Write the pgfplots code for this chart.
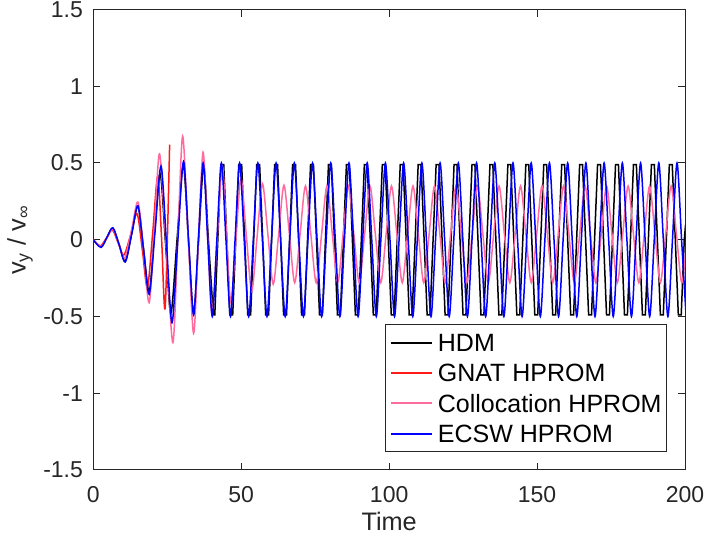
\documentclass[border=0pt]{standalone}
\usepackage{fontspec}
\setmainfont{Liberation Sans}
\usepackage{pgfplots}
\pgfplotsset{compat=1.18}
\definecolor{axgray}{rgb}{0.15,0.15,0.15}
\definecolor{gnatred}{rgb}{1,0.1,0.1}
\definecolor{colpink}{rgb}{1,0.42,0.62}
\definecolor{ecswblue}{rgb}{0,0,1}
\pgfplotsset{
  hdmstyle/.style={black, line width=0.75pt},
  gnatstyle/.style={gnatred, line width=0.75pt},
  colstyle/.style={colpink, line width=0.75pt},
  ecswstyle/.style={ecswblue, line width=0.75pt},
}
\begin{document}
\begin{tikzpicture}
\useasboundingbox (0,0) rectangle (353pt,267.5pt);
\begin{axis}[
  at={(46.65pt,32.5pt)}, anchor=south west,
  width=295.85pt, height=230.25pt, scale only axis,
  xmin=0, xmax=200, ymin=-1.5, ymax=1.5,
  xtick={0,50,100,150,200}, xticklabels={0,50,100,150,200},
  ytick={-1.5,-1,-0.5,0,0.5,1,1.5}, yticklabels={-1.5,-1,-0.5,0,0.5,1,1.5},
  tick align=inside, major tick length=3.5pt,
  xtick pos=both, ytick pos=both,
  axis line style={axgray, line width=0.5pt},
  every tick/.style={axgray, line width=0.5pt},
  tick label style={font=\fontsize{11.5}{13}\selectfont, text=axgray},
  xticklabel style={anchor=base, yshift=-16.15pt},
  yticklabel style={anchor=east, inner sep=0pt, xshift=-5pt},
  xlabel={Time},
  ylabel={v\textsubscript{y} / v\textsubscript{∞}},
  label style={font=\fontsize{12.65}{14}\selectfont, text=axgray},
  xlabel style={at={(axis description cs:0.5,-0.1315)}, anchor=base},
  ylabel style={at={(axis description cs:-0.1239,0.5)}, anchor=center},
  legend cell align=left,
  legend style={at={(rel axis cs:1,0)}, anchor=south east, xshift=-9.15pt, yshift=9pt,
    draw=axgray, line width=0.5pt, fill=white, inner xsep=2.3pt, inner ysep=1.35pt,
    row sep=0pt, column sep=2.3pt, font=\fontsize{12.5}{14}\selectfont,
    nodes={inner sep=0pt, text height=12.05pt, text depth=3.1pt}},
  legend image code/.code={\draw[#1, line width=0.9pt] (0pt,0pt) -- (20.5pt,0pt);},
]
% HDM transient
\addplot[hdmstyle, smooth, forget plot] coordinates {
(0,0) (2.6,-0.045) (4.6,0.015) (6.6,0.075) (8.7,-0.03) (10.8,-0.14) (13.0,0.04)
(15.1,0.22) (17.0,-0.06) (18.9,-0.34) (20.7,0.05) (22.6,0.43) (24.4,-0.02)
(26.2,-0.48) (28.3,0.0) (30.4,0.49) (32.15,0.0) (33.9,-0.48) (35.6,0.0)
(37.3,0.48) (38.9,0.0) (40.57,-0.49)};
% HDM steady
\addplot[hdmstyle] coordinates {
(40.57,-0.49) (41.06,-0.49) (42.09,0)
(43.11,0.49) (44.09,0.49) (45.12,0) (46.14,-0.49) (47.12,-0.49) (48.15,0)
(49.17,0.49) (50.15,0.49) (51.18,0) (52.20,-0.49) (53.18,-0.49) (54.21,0)
(55.24,0.49) (56.22,0.49) (57.25,0) (58.27,-0.49) (59.25,-0.49) (60.28,0)
(61.30,0.49) (62.28,0.49) (63.31,0) (64.33,-0.49) (65.31,-0.49) (66.34,0)
(67.37,0.49) (68.35,0.49) (69.38,0) (70.40,-0.49) (71.38,-0.49) (72.41,0)
(73.43,0.49) (74.41,0.49) (75.44,0) (76.46,-0.49) (77.44,-0.49) (78.47,0)
(79.49,0.49) (80.47,0.49) (81.50,0) (82.52,-0.49) (83.50,-0.49) (84.53,0)
(85.56,0.49) (86.54,0.49) (87.57,0) (88.59,-0.49) (89.57,-0.49) (90.60,0)
(91.62,0.49) (92.60,0.49) (93.63,0) (94.65,-0.49) (95.63,-0.49) (96.66,0)
(97.69,0.49) (98.67,0.49) (99.70,0) (100.72,-0.49) (101.70,-0.49) (102.73,0)
(103.75,0.49) (104.73,0.49) (105.76,0) (106.78,-0.49) (107.76,-0.49) (108.79,0)
(109.81,0.49) (110.79,0.49) (111.82,0) (112.84,-0.49) (113.82,-0.49) (114.85,0)
(115.88,0.49) (116.86,0.49) (117.89,0) (118.91,-0.49) (119.89,-0.49) (120.92,0)
(121.94,0.49) (122.92,0.49) (123.95,0) (124.97,-0.49) (125.95,-0.49) (126.98,0)
(128.01,0.49) (128.99,0.49) (130.02,0) (131.04,-0.49) (132.02,-0.49) (133.05,0)
(134.07,0.49) (135.05,0.49) (136.08,0) (137.10,-0.49) (138.08,-0.49) (139.11,0)
(140.13,0.49) (141.11,0.49) (142.14,0) (143.16,-0.49) (144.14,-0.49) (145.17,0)
(146.20,0.49) (147.18,0.49) (148.21,0) (149.23,-0.49) (150.21,-0.49) (151.24,0)
(152.26,0.49) (153.24,0.49) (154.27,0) (155.29,-0.49) (156.27,-0.49) (157.30,0)
(158.33,0.49) (159.31,0.49) (160.34,0) (161.36,-0.49) (162.34,-0.49) (163.37,0)
(164.39,0.49) (165.37,0.49) (166.40,0) (167.42,-0.49) (168.40,-0.49) (169.43,0)
(170.45,0.49) (171.43,0.49) (172.46,0) (173.48,-0.49) (174.46,-0.49) (175.49,0)
(176.52,0.49) (177.50,0.49) (178.53,0) (179.55,-0.49) (180.53,-0.49) (181.56,0)
(182.58,0.49) (183.56,0.49) (184.59,0) (185.61,-0.49) (186.59,-0.49) (187.62,0)
(188.65,0.49) (189.63,0.49) (190.66,0) (191.68,-0.49) (192.66,-0.49) (193.69,0)
(194.71,0.49) (195.69,0.49) (196.72,0) (197.74,-0.49) (198.72,-0.49) (199.75,0)
(200.2,0.1)};
\addlegendentry{HDM}
% GNAT
\addplot[gnatstyle, smooth] coordinates {
(0,0) (2.4,-0.04) (4.4,0.01) (6.4,0.065) (8.4,-0.02) (10.3,-0.10) (12.6,0.03)
(14.8,0.17) (16.6,-0.07) (18.3,-0.31) (20.1,0.05) (21.8,0.415) (23.1,0.0)
(24.3,-0.44) (25.8,0.62)};
\addlegendentry{GNAT HPROM}
% Collocation
\addplot[colstyle, smooth] coordinates {
(0,0) (2.6,-0.045) (4.6,0.01) (6.6,0.07) (8.6,-0.025) (10.6,-0.12) (12.9,0.06)
(15.1,0.245) (17.0,-0.08) (18.9,-0.41) (20.65,0.07) (22.4,0.56) (24.65,-0.05)
(26.9,-0.67) (28.55,0.0) (30.2,0.675) (32.05,0.03) (33.9,-0.61) (35.5,-0.02)
(37.1,0.57) (38.6,0.04) (40.1,-0.48) (41.85,0.0) (43.6,0.48) (45.05,0.03)
(46.5,-0.41) (48.2,0.0) (49.9,0.40) (51.72,0.03) (53.54,-0.335) (55.35,0.015)
(57.17,0.365) (58.99,0.04) (60.81,-0.29) (62.62,0.03) (64.44,0.355) (66.26,0.04)
(68.08,-0.28) (69.89,0.035)
(71.71,0.35) (73.53,0.035) (75.35,-0.28) (77.16,0.035)
(78.98,0.35) (80.80,0.035) (82.62,-0.28) (84.43,0.035)
(86.25,0.35) (88.07,0.035) (89.89,-0.28) (91.70,0.035)
(93.52,0.35) (95.34,0.035) (97.16,-0.28) (98.97,0.035)
(100.79,0.35) (102.61,0.035) (104.43,-0.28) (106.24,0.035)
(108.06,0.35) (109.88,0.035) (111.70,-0.28) (113.51,0.035)
(115.33,0.35) (117.15,0.035) (118.97,-0.28) (120.78,0.035)
(122.60,0.35) (124.42,0.035) (126.24,-0.28) (128.05,0.035)
(129.87,0.35) (131.69,0.035) (133.51,-0.28) (135.32,0.035)
(137.14,0.35) (138.96,0.035) (140.78,-0.28) (142.59,0.035)
(144.41,0.35) (146.23,0.035) (148.05,-0.28) (149.86,0.035)
(151.68,0.35) (153.50,0.035) (155.32,-0.28) (157.13,0.035)
(158.95,0.35) (160.77,0.035) (162.59,-0.28) (164.40,0.035)
(166.22,0.35) (168.04,0.035) (169.86,-0.28) (171.67,0.035)
(173.49,0.35) (175.31,0.035) (177.13,-0.28) (178.94,0.035)
(180.76,0.35) (182.58,0.035) (184.40,-0.28) (186.21,0.035)
(188.03,0.35) (189.85,0.035) (191.67,-0.28) (193.48,0.035)
(195.30,0.35) (197.12,0.035) (198.94,-0.28) (200.75,0.035)};
\addlegendentry{Collocation HPROM}
% ECSW
\addplot[ecswstyle, smooth] coordinates {
(0,0) (2.6,-0.05) (4.6,0.015) (6.6,0.078) (8.7,-0.03) (10.8,-0.145) (13.0,0.04)
(15.1,0.22) (17.0,-0.07) (18.9,-0.355) (20.9,0.06) (22.9,0.48) (24.75,-0.03)
(26.6,-0.54) (28.55,-0.01) (30.5,0.51) (32.2,0.0) (33.9,-0.49) (35.5,0.0)
(37.14,0.5) (38.68,0) (40.22,-0.5) (41.76,0)
(43.30,0.5) (44.84,0) (46.38,-0.5) (47.92,0)
(49.46,0.5) (51.00,0) (52.54,-0.5) (54.08,0)
(55.62,0.5) (57.16,0) (58.70,-0.5) (60.24,0)
(61.78,0.5) (63.32,0) (64.86,-0.5) (66.40,0)
(67.94,0.5) (69.48,0) (71.02,-0.5) (72.56,0)
(74.10,0.5) (75.64,0) (77.18,-0.5) (78.72,0)
(80.26,0.5) (81.80,0) (83.34,-0.5) (84.88,0)
(86.42,0.5) (87.96,0) (89.50,-0.5) (91.04,0)
(92.58,0.5) (94.12,0) (95.66,-0.5) (97.20,0)
(98.74,0.5) (100.28,0) (101.82,-0.5) (103.36,0)
(104.90,0.5) (106.44,0) (107.98,-0.5) (109.52,0)
(111.06,0.5) (112.60,0) (114.14,-0.5) (115.68,0)
(117.22,0.5) (118.76,0) (120.30,-0.5) (121.84,0)
(123.38,0.5) (124.92,0) (126.46,-0.5) (128.00,0)
(129.54,0.5) (131.08,0) (132.62,-0.5) (134.16,0)
(135.70,0.5) (137.24,0) (138.78,-0.5) (140.32,0)
(141.86,0.5) (143.40,0) (144.94,-0.5) (146.48,0)
(148.02,0.5) (149.56,0) (151.10,-0.5) (152.64,0)
(154.18,0.5) (155.72,0) (157.26,-0.5) (158.80,0)
(160.34,0.5) (161.88,0) (163.42,-0.5) (164.96,0)
(166.50,0.5) (168.04,0) (169.58,-0.5) (171.12,0)
(172.66,0.5) (174.20,0) (175.74,-0.5) (177.28,0)
(178.82,0.5) (180.36,0) (181.90,-0.5) (183.44,0)
(184.98,0.5) (186.52,0) (188.06,-0.5) (189.60,0)
(191.14,0.5) (192.68,0) (194.22,-0.5) (195.76,0)
(197.30,0.5) (198.84,0) (200.38,-0.5)};
\addlegendentry{ECSW HPROM}
\end{axis}
\end{tikzpicture}
\end{document}
